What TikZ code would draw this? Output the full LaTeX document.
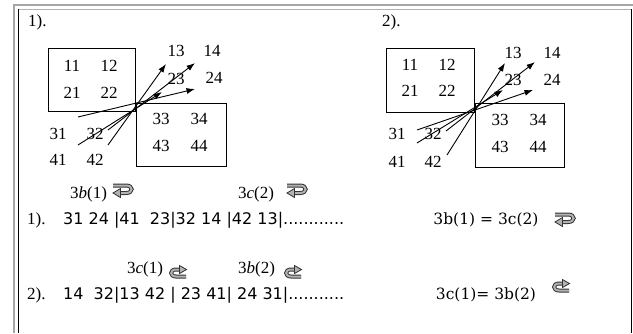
\documentclass[tikz,border=0pt]{standalone}
\usepackage{fontspec}
\setmainfont{Liberation Serif}
\newfontfamily\numsans{DejaVu Sans}
\newfontfamily\eqserif{DejaVu Serif}
\usetikzlibrary{arrows.meta}
\begin{document}
\begin{tikzpicture}[x=1pt,y=-1pt,
  num/.style={font=\fontsize{17}{17}\selectfont, inner sep=0pt},
  boxline/.style={draw=black, line width=0.9pt},
  arr/.style={draw=black, line width=0.9pt, -{Latex[length=8.5pt,width=6pt]}},
  lab/.style={font=\fontsize{17}{17}\selectfont, inner sep=0pt, anchor=base west},
  seq/.style={font=\numsans\fontsize{16}{16}\selectfont, inner sep=0pt, anchor=base west},
  eqn/.style={font=\eqserif\fontsize{15.5}{15.5}\selectfont, inner sep=0pt, anchor=base},
  curlR/.pic={
    \draw[line width=1pt, draw=black!80, double=gray!60, double distance=2pt]
      (1,1.5) -- (14,1.5) .. controls (21.5,1.5) and (21.5,9) .. (14,9) -- (8,9);
    \filldraw[fill=gray!60, draw=black!80, line width=0.8pt] (8.5,4.5) -- (1,9) -- (8.5,13.5) -- cycle;
  },
  curlL/.pic={
    \draw[line width=1pt, draw=black!80, double=gray!60, double distance=2pt]
      (16,8.5) -- (6,8.5) .. controls (-0.5,8.5) and (-0.5,1.5) .. (6,1.5) -- (9.5,1.5);
    \filldraw[fill=gray!60, draw=black!80, line width=0.8pt] (9.5,-2.5) -- (16.5,1.5) -- (9.5,5.5) -- cycle;
  }]
\useasboundingbox (0,0) rectangle (633,333);
\fill[white] (0,0) rectangle (633,333);
% frame
\draw[gray!70, line width=1.5pt] (14,333) -- (14,5) -- (633,5);
\draw[gray!60, line width=1pt] (18,9) -- (631,9);
\draw[black, line width=1pt] (18,333) -- (18,9);
\draw[black, line width=1pt] (631,9) -- (631,333);

% ---------- panel 1 ----------
\node[lab] (h1) at (28,26) {1).};
\draw[boxline] (48,48) rectangle (135,111);
\draw[boxline] (136,103) rectangle (226,166);
\node[num] (a11) at (72,66) {11};
\node[num] (a12) at (109,66) {12};
\node[num] (a21) at (72,93) {21};
\node[num] (a22) at (109,93) {22};
\node[num] (a33) at (161,119) {33};
\node[num] (a34) at (199,119) {34};
\node[num] (a43) at (161,146) {43};
\node[num] (a44) at (199,146) {44};
\node[num] (a13) at (176,51) {13};
\node[num] (a14) at (212,51) {14};
\node[num] (a23) at (176,79) {23};
\node[num] (a24) at (214,78) {24};
\node[num] (a31) at (58,134) {31};
\node[num] (a32) at (95,134) {32};
\node[num] (a41) at (58,160) {41};
\node[num] (a42) at (95,160) {42};
\coordinate (p1s1) at (78,117);
\coordinate (p1s2) at (78,145);
\coordinate (p1s3) at (108,130);
\coordinate (p1s4) at (108,145);
\coordinate (p1t1) at (195,89);
\coordinate (p1t2) at (162,92);
\coordinate (p1t3) at (195,63);
\coordinate (p1t4) at (166,64);
\draw[arr] (p1s1) -- (p1t1);
\draw[arr] (p1s2) -- (p1t2);
\draw[arr] (p1s3) -- (p1t3);
\draw[arr] (p1s4) -- (p1t4);

% ---------- panel 2 ----------
\node[lab] (h2) at (382,26) {2).};
\draw[boxline] (386,48) rectangle (474,112);
\draw[boxline] (475,103) rectangle (564,167);
\node[num] (b11) at (410,65) {11};
\node[num] (b12) at (447,65) {12};
\node[num] (b21) at (410,91) {21};
\node[num] (b22) at (447,91) {22};
\node[num] (b33) at (500,120) {33};
\node[num] (b34) at (538,120) {34};
\node[num] (b43) at (500,147) {43};
\node[num] (b44) at (538,147) {44};
\node[num] (b13) at (513,53) {13};
\node[num] (b14) at (552,53) {14};
\node[num] (b23) at (513,80) {23};
\node[num] (b24) at (552,80) {24};
\node[num] (b31) at (397,134) {31};
\node[num] (b32) at (433,134) {32};
\node[num] (b41) at (397,162) {41};
\node[num] (b42) at (433,162) {42};
\coordinate (p2s1) at (417,130);
\coordinate (p2s2) at (417,143);
\coordinate (p2s3) at (446,131);
\coordinate (p2s4) at (447,155);
\coordinate (p2t1) at (533,90);
\coordinate (p2t2) at (503,90);
\coordinate (p2t3) at (535,62);
\coordinate (p2t4) at (505,63);
\draw[arr] (p2s1) -- (p2t1);
\draw[arr] (p2s2) -- (p2t2);
\draw[arr] (p2s3) -- (p2t3);
\draw[arr] (p2s4) -- (p2t4);

% ---------- lower rows ----------
\node[lab] (m1) at (70,198) {3\textit{b}(1)};
\pic at (112,184) {curlR};
\node[lab] (m2) at (238,198) {3\textit{c}(2)};
\pic at (286,184) {curlR};
\node[lab] (r1) at (27,224) {1).};
\node[seq] (s1) at (63,224) {31 24 |41\ \ 23|32 14 |42 13|............};

\node[lab] (m3) at (127,273) {3\textit{c}(1)};
\pic at (170,268) {curlL};
\node[lab] (m4) at (238,273) {3\textit{b}(2)};
\pic at (285,268) {curlL};
\node[lab] (r2) at (27,299) {2).};
\node[seq] (s2) at (63,299) {14\ \ 32|13 42 | 23 41| 24 31|...........};

\node[eqn] (e1) at (486,224) {3b(1) = 3c(2)};
\pic at (554,213) {curlR};
\node[eqn] (e2) at (486,299) {3c(1)= 3b(2)};
\pic at (553,282) {curlL};
\end{tikzpicture}
\end{document}
